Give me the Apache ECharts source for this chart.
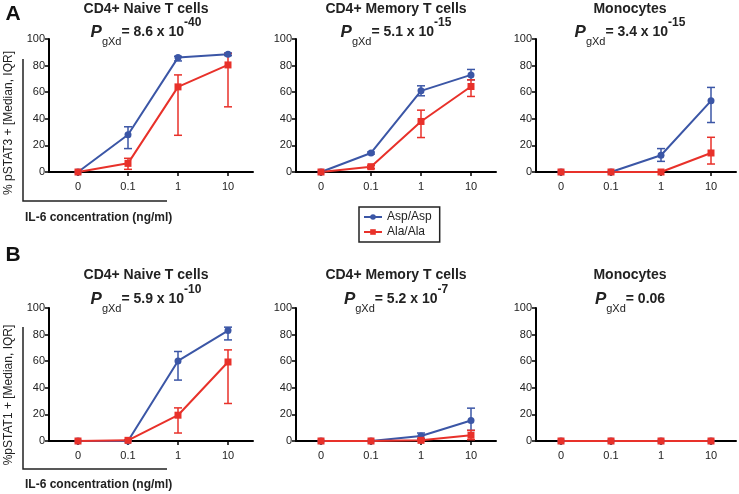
<!DOCTYPE html>
<html>
<head>
<meta charset="utf-8">
<script src="https://cdn.jsdelivr.net/npm/echarts@6/dist/echarts.min.js"></script>
<style>
  html, body { margin: 0; padding: 0; background: #fff; }
  #chart { width: 739px; height: 494px; }
</style>
</head>
<body>
<div id="chart"></div>
<script>
  // x categories (IL-6 dose, ng/ml)
  var doses = ['0', '0.1', '1', '10'];
  var cellTypes = ['CD4+ Naive T cells', 'CD4+ Memory T cells', 'Monocytes'];
  var pStat3 = ['8.6 x 10', '5.1 x 10', '3.4 x 10'];
  var pStat3Exp = ['-40', '-15', '-15'];
  var pStat1 = ['5.9 x 10', '5.2 x 10', '0.06'];
  var pStat1Exp = ['-10', '-7', ''];

  // pSTAT3, median and IQR [low, high]
  var stat3NaiveAsp = [0, 28, 86, 88.5];
  var stat3NaiveAspIqr = [[0, 0], [17.6, 34], [83.5, 87], [87.5, 89.5]];
  var stat3NaiveAla = [0, 6.5, 64, 80.5];
  var stat3NaiveAlaIqr = [[0, 0], [2, 10.3], [27.6, 73], [49, 89]];
  var stat3MemAsp = [0, 14.3, 61, 73];
  var stat3MemAspIqr = [[0, 0], [13.5, 15], [57.3, 64.8], [69.3, 77.1]];
  var stat3MemAla = [0, 4, 38, 64.3];
  var stat3MemAlaIqr = [[0, 0], [2.5, 5], [25.9, 46.5], [56.8, 69.3]];
  var stat3MonoAsp = [0, 0, 12.6, 53.5];
  var stat3MonoAspIqr = [[0, 0], [0, 0], [8, 17.6], [37.2, 63.6]];
  var stat3MonoAla = [0, 0, 0, 14.3];
  var stat3MonoAlaIqr = [[0, 0], [0, 0], [0, 0], [6, 26.1]];

  // pSTAT1, median and IQR [low, high]
  var stat1NaiveAsp = [0, 0, 60.2, 83];
  var stat1NaiveAspIqr = [[0, 0], [0, 0], [45.8, 67.3], [76, 85.6]];
  var stat1NaiveAla = [0, 0.5, 19.4, 59.4];
  var stat1NaiveAlaIqr = [[0, 0], [0, 1], [6, 24.9], [28.2, 68.5]];
  var stat1MemAsp = [0, 0, 3.8, 15.4];
  var stat1MemAspIqr = [[0, 0], [0, 0], [1.8, 6], [8, 24.7]];
  var stat1MemAla = [0, 0, 0.5, 4.3];
  var stat1MemAlaIqr = [[0, 0], [0, 0], [0, 1], [1, 8]];
  var stat1MonoAsp = [0, 0, 0, 0];
  var stat1MonoAspIqr = [[0, 0], [0, 0], [0, 0], [0, 0]];
  var stat1MonoAla = [0, 0, 0, 0];
  var stat1MonoAlaIqr = [[0, 0], [0, 0], [0, 0], [0, 0]];

  var panels = [
    [stat3NaiveAsp, stat3NaiveAspIqr, stat3NaiveAla, stat3NaiveAlaIqr],
    [stat3MemAsp, stat3MemAspIqr, stat3MemAla, stat3MemAlaIqr],
    [stat3MonoAsp, stat3MonoAspIqr, stat3MonoAla, stat3MonoAlaIqr],
    [stat1NaiveAsp, stat1NaiveAspIqr, stat1NaiveAla, stat1NaiveAlaIqr],
    [stat1MemAsp, stat1MemAspIqr, stat1MemAla, stat1MemAlaIqr],
    [stat1MonoAsp, stat1MonoAspIqr, stat1MonoAla, stat1MonoAlaIqr]
  ];

  var BLUE = '#3b56a6';
  var RED = '#e8312a';
  var FONT = '"Liberation Sans", Arial, sans-serif';

  var colLeft = [49, 296, 536];
  var colWidth = [204, 200, 200];
  var colMin = [-0.58, -0.5, -0.5];
  var rowTop = [39, 308];
  var titleX = [146, 396, 630];
  var titleY = [9, 275];
  var pY = [32, 299];

  var myChart = echarts.init(document.getElementById('chart'));

  function errorSeries(name, iqr, color, gi) {
    return {
      type: 'custom',
      name: name,
      xAxisIndex: gi,
      yAxisIndex: gi,
      silent: true,
      data: iqr.map(function (d, i) { return [i, d[0], d[1]]; }),
      encode: { x: 0, y: [1, 2] },
      renderItem: function (params, api) {
        if (api.value(2) - api.value(1) < 0.01) return null;
        var lo = api.coord([api.value(0), api.value(1)]);
        var hi = api.coord([api.value(0), api.value(2)]);
        var w = 4;
        var st = { stroke: color, lineWidth: 1.5 };
        return {
          type: 'group',
          children: [
            { type: 'line', shape: { x1: lo[0], y1: lo[1], x2: hi[0], y2: hi[1] }, style: st },
            { type: 'line', shape: { x1: hi[0] - w, y1: hi[1], x2: hi[0] + w, y2: hi[1] }, style: st },
            { type: 'line', shape: { x1: lo[0] - w, y1: lo[1], x2: lo[0] + w, y2: lo[1] }, style: st }
          ]
        };
      }
    };
  }

  function lineSeries(name, vals, color, gi, symbol) {
    return {
      type: 'line',
      name: name,
      xAxisIndex: gi,
      yAxisIndex: gi,
      data: vals.map(function (v, i) { return [i, v]; }),
      symbol: symbol,
      symbolSize: 7,
      showAllSymbol: true,
      lineStyle: { color: color, width: 2 },
      itemStyle: { color: color }
    };
  }

  var grids = [], xAxes = [], yAxes = [], series = [], graphics = [];
  var axisLineStyle = { color: '#000', width: 2 };
  var tickStyle = { color: '#000', width: 1.5 };

  for (var gi = 0; gi < 6; gi++) {
    var r = Math.floor(gi / 3), c = gi % 3;
    grids.push({ left: colLeft[c], top: rowTop[r], width: colWidth[c], height: 133, outerBoundsMode: 'none' });
    xAxes.push({
      gridIndex: gi, type: 'value', min: colMin[c], max: 3.5,
      axisLine: { show: true, onZero: false, lineStyle: axisLineStyle },
      axisTick: { show: true, customValues: [0, 1, 2, 3], length: 4, lineStyle: tickStyle },
      axisLabel: {
        customValues: [0, 1, 2, 3], margin: 9, fontSize: 11, color: '#222', fontFamily: FONT,
        formatter: function (v) { return doses[Math.round(v)]; }
      },
      splitLine: { show: false }
    });
    yAxes.push({
      gridIndex: gi, type: 'value', min: 0, max: 100, interval: 20,
      axisLine: { show: true, onZero: false, lineStyle: axisLineStyle },
      axisTick: { show: true, length: 4, lineStyle: tickStyle },
      axisLabel: { margin: 4, fontSize: 11, color: '#222', fontFamily: FONT },
      splitLine: { show: false }
    });
    var p = panels[gi];
    series.push(errorSeries('Asp IQR', p[1], BLUE, gi));
    series.push(lineSeries('Asp/Asp', p[0], BLUE, gi, 'circle'));
    series.push(errorSeries('Ala IQR', p[3], RED, gi));
    series.push(lineSeries('Ala/Ala', p[2], RED, gi, 'rect'));

    // panel titles
    graphics.push({
      type: 'text', x: titleX[c], y: titleY[r],
      style: { text: cellTypes[c], align: 'center', verticalAlign: 'middle', fill: '#222',
        font: 'bold 14px ' + FONT }
    });
    var val = r === 0 ? pStat3[c] : pStat1[c];
    var ex = r === 0 ? pStat3Exp[c] : pStat1Exp[c];
    graphics.push({
      type: 'text', x: titleX[c], y: pY[r],
      style: {
        text: '{p|P}{s|gXd}{m|= ' + val + '}' + (ex ? '{e|' + ex + '}' : ''),
        align: 'center', verticalAlign: 'middle', fill: '#222',
        rich: {
          p: { fontFamily: FONT, fontSize: 17, fontStyle: 'italic', fontWeight: 'bold', fill: '#222', lineHeight: 30 },
          s: { fontFamily: FONT, fontSize: 11, fill: '#222', verticalAlign: 'bottom', lineHeight: 12 },
          m: { fontFamily: FONT, fontSize: 14, fontWeight: 'bold', fill: '#222', lineHeight: 30 },
          e: { fontFamily: FONT, fontSize: 12, fontWeight: 'bold', fill: '#222', verticalAlign: 'top', lineHeight: 16 }
        }
      }
    });
  }

  // row letters, bracket axes and axis titles
  var rowLabels = ['A', 'B'];
  var letterY = [14, 255];
  var yTitles = ['% pSTAT3 + [Median, IQR]', '%pSTAT1 + [Median, IQR]'];
  var bracketTop = [59, 327];
  var bracketBottom = [201, 469];
  var yTitleY = [123, 395];
  var xTitleY = [218, 485];
  for (var ri = 0; ri < 2; ri++) {
    graphics.push({
      type: 'text', x: 13, y: letterY[ri],
      style: { text: rowLabels[ri], align: 'center', verticalAlign: 'middle', fill: '#111', font: 'bold 21px ' + FONT }
    });
    graphics.push({
      type: 'polyline',
      shape: { points: [[23, bracketTop[ri]], [23, bracketBottom[ri]], [167, bracketBottom[ri]]] },
      style: { stroke: '#222', lineWidth: 1.5, fill: null }
    });
    graphics.push({
      type: 'text', x: 9, y: yTitleY[ri], rotation: Math.PI / 2,
      style: { text: yTitles[ri], align: 'center', verticalAlign: 'middle', fill: '#222', font: '12px ' + FONT }
    });
    graphics.push({
      type: 'text', x: 25, y: xTitleY[ri],
      style: { text: 'IL-6 concentration (ng/ml)', align: 'left', verticalAlign: 'middle', fill: '#222', font: 'bold 12px ' + FONT }
    });
  }

  var option = {
    animation: false,
    backgroundColor: '#fff',
    grid: grids,
    xAxis: xAxes,
    yAxis: yAxes,
    legend: {
      data: ['Asp/Asp', 'Ala/Ala'],
      orient: 'vertical',
      left: 359,
      top: 207,
      itemWidth: 18,
      itemHeight: 7,
      itemGap: 3,
      padding: [4, 8, 4, 4],
      borderColor: '#222',
      borderWidth: 1.5,
      borderRadius: 0,
      selectedMode: false,
      textStyle: { fontSize: 12, color: '#222', fontFamily: FONT }
    },
    graphic: graphics,
    series: series
  };

  myChart.setOption(option);
</script>
</body>
</html>
